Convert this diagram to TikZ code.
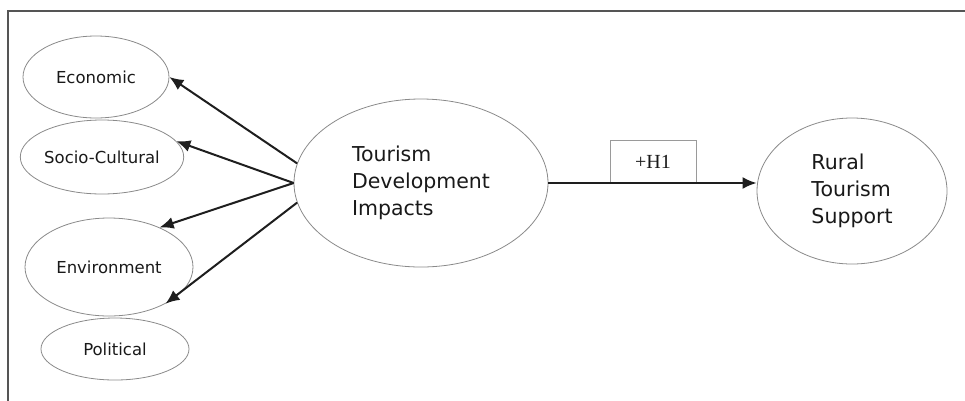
\documentclass[tikz,border=0pt]{standalone}
\usepackage{fontspec}
\setmainfont{DejaVu Sans}
\newfontfamily\hypfont{Liberation Serif}
\usepackage{xcolor}
\usetikzlibrary{shapes.geometric,arrows.meta}

\definecolor{framegray}{HTML}{555555}
\definecolor{ovalgray}{HTML}{8A8A8A}
\definecolor{boxgray}{HTML}{9A9A9A}
\definecolor{arrowblack}{HTML}{1E1E1E}

\begin{document}
\begin{tikzpicture}[x=1pt, y=-1pt,
    every node/.style={inner sep=0pt, text=black!90},
    dimension/.style={ellipse, draw=ovalgray, line width=0.8pt, font=\fontsize{16.5}{20}\selectfont},
    construct/.style={ellipse, draw=ovalgray, line width=0.8pt, align=left, font=\fontsize{20.5}{27}\selectfont},
    impact/.style={-{Latex[length=14pt, width=12pt]}, line width=2pt, draw=arrowblack}]
				\useasboundingbox (0,0) rectangle (965,400);
				\clip (0,0) rectangle (965,400);
				\draw[framegray, line width=1.3pt] (8,11) rectangle (990,430);
				% dimensions of impact
				\node (eco) at (96,77) [dimension, minimum width=146pt, minimum height=82pt] {Economic};
				\node (soc) at (102,157) [dimension, minimum width=160pt, minimum height=74pt] {Socio-Cultural};
				\node (env) at (109,267) [dimension, minimum width=168pt, minimum height=98pt] {Environment};
				\node (pol) at (115,349) [dimension, minimum width=148pt, minimum height=62pt] {Political};
				% main constructs
				\node (tdi) at (421,183) [construct, minimum width=254pt, minimum height=168pt] {Tourism\\Development\\Impacts};
				\node (rts) at (852,191) [construct, minimum width=190pt, minimum height=146pt] {Rural\\Tourism\\Support};
				\node (hyp) at (653,161.5) [draw=boxgray, line width=0.8pt, minimum width=86pt, minimum height=43pt, font=\hypfont\fontsize{20}{24}\selectfont] {+H1};
				\draw[impact] (tdi.171) -- (eco.east);
				\draw[impact] (tdi.west) -- (soc.12);
				\draw[impact] (tdi.west) -- (env.38);
				\draw[impact] (tdi.189) -- (env.-33);
				\draw[impact] (tdi.east) -- (rts.west |- tdi.east);
			\end{tikzpicture}
\end{document}
